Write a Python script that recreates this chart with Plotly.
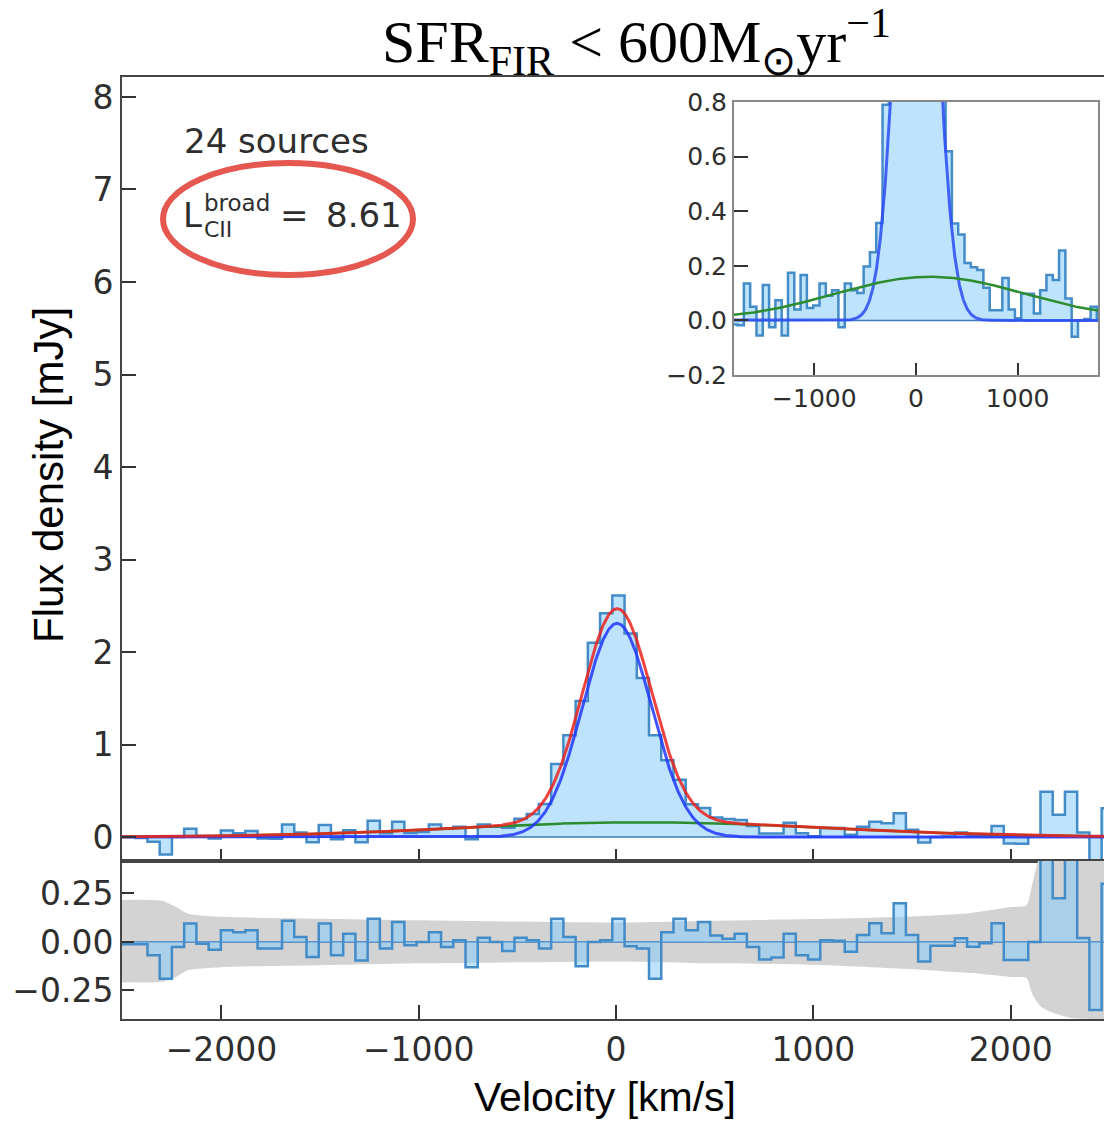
import numpy as np
import plotly.graph_objects as go

W, H = 1104, 1121

# ---- stacked spectrum: channel grid (km/s) ----
CHAN_FIRST = -2530.0   # centre of first channel
CHAN_WIDTH = 62.0
N_CHAN = 82
vel = CHAN_FIRST + CHAN_WIDTH * np.arange(N_CHAN)

# stacked flux density per channel [mJy]
flux = [
    0.00, 0.00, -0.01, -0.05, -0.19, 0.00, 0.09, 0.01, -0.015, 0.07,
    0.04, 0.065, -0.015, -0.018, 0.135, 0.05, -0.055, 0.13, -0.025, 0.074,
    -0.055, 0.175, 0.04, 0.166, 0.045, 0.055, 0.135, 0.09, 0.11, -0.025,
    0.135, 0.11, 0.10, 0.197, 0.25, 0.357, 0.79, 1.10, 1.47, 2.10,
    2.42, 2.61, 2.20, 1.72, 1.10, 0.83, 0.62, 0.355, 0.315, 0.21,
    0.195, 0.185, 0.12, 0.037, 0.037, 0.155, 0.04, 0.008, 0.098, 0.098,
    0.025, 0.11, 0.166, 0.148, 0.256, 0.08, -0.06, 0.0, 0.005, 0.05,
    0.01, 0.022, 0.12, -0.07, -0.073, 0.015, 0.49, 0.24, 0.49, 0.05,
    -0.34, 0.31,
]

# fit residuals per channel [mJy]
resid = [
    -0.012, -0.012, -0.012, -0.069, -0.19, -0.026, 0.095, -0.009, -0.04, 0.06,
    0.05, 0.06, -0.034, -0.034, 0.11, 0.026, -0.077, 0.095, -0.069, 0.043,
    -0.095, 0.12, -0.034, 0.103, -0.017, 0.0, 0.05, -0.026, 0.009, -0.13,
    0.022, 0.0, -0.046, 0.022, 0.009, -0.034, 0.12, 0.026, -0.125, 0.0,
    0.009, 0.12, -0.022, -0.034, -0.19, 0.05, 0.12, 0.06, 0.103, 0.034,
    0.017, 0.043, -0.026, -0.09, -0.08, 0.043, -0.069, -0.09, 0.009, 0.007,
    -0.05, 0.036, 0.096, 0.045, 0.20, 0.036, -0.10, -0.019, -0.019, 0.019,
    -0.024, -0.007, 0.096, -0.093, -0.093, 0.0, 0.47, 0.225, 0.47, 0.02,
    -0.35, 0.30,
]

# Gaussian fit components: amplitude [mJy], centre [km/s], sigma [km/s]
narrow_fit = (2.31, 5.0, 176.0)
broad_fit = (0.16, 140.0, 940.0)

# 1-sigma noise envelope shown behind the residuals
band_v = [-2600, -2300, -2230, -2170, -2000, -1500, -1000, -500, 0, 500,
          1000, 1500, 1800, 2000, 2080, 2110, 2150, 2200, 2300, 2600]
band_hi = [0.215, 0.212, 0.18, 0.146, 0.13, 0.12, 0.112, 0.105, 0.10, 0.11,
           0.118, 0.132, 0.15, 0.18, 0.19, 0.30, 0.45, 0.50, 0.50, 0.50]
band_lo = [-0.206, -0.205, -0.18, -0.146, -0.13, -0.12, -0.11, -0.105, -0.10, -0.11,
           -0.117, -0.14, -0.16, -0.18, -0.185, -0.27, -0.33, -0.36, -0.39, -0.40]

n_sources = 24
l_broad = "8.61"


def gauss(v, p):
    a, c, s = p
    return a * np.exp(-0.5 * ((v - c) / s) ** 2)


v_fine = np.linspace(-2600, 2600, 1301)
g_narrow = gauss(v_fine, narrow_fit)
g_broad = gauss(v_fine, broad_fit)
g_total = g_narrow + g_broad


def px(x):
    return x / W


def py(y):
    return 1 - y / H


C_EDGE = "rgb(68,140,200)"
C_FILL = "rgba(135,206,250,0.55)"
C_ZERO = "rgb(60,125,190)"
C_BLUE = "rgba(35,55,255,0.85)"
C_RED = "rgba(235,35,30,0.85)"
C_GREEN = "rgb(45,140,45)"
TICK_FONT = dict(family="DejaVu Sans", size=33, color="#2e2e2e")
INSET_FONT = dict(family="DejaVu Sans", size=25, color="#2e2e2e")

fig = go.Figure()

# ---- main panel ----
fig.add_trace(go.Scatter(x=vel, y=flux, mode="lines", line_shape="hvh",
                         line=dict(color=C_EDGE, width=2.5), fill="tozeroy",
                         fillcolor=C_FILL, xaxis="x", yaxis="y"))
fig.add_trace(go.Scatter(x=[-2600, 2600], y=[0, 0], mode="lines",
                         line=dict(color=C_ZERO, width=1.5), xaxis="x", yaxis="y"))
fig.add_trace(go.Scatter(x=v_fine, y=g_broad, mode="lines",
                         line=dict(color=C_GREEN, width=2.5), xaxis="x", yaxis="y"))
fig.add_trace(go.Scatter(x=v_fine, y=g_narrow, mode="lines",
                         line=dict(color=C_BLUE, width=3), xaxis="x", yaxis="y"))
fig.add_trace(go.Scatter(x=v_fine, y=g_total, mode="lines",
                         line=dict(color=C_RED, width=3), xaxis="x", yaxis="y"))

# ---- residual panel ----
fig.add_trace(go.Scatter(x=band_v, y=band_lo, mode="lines",
                         line=dict(width=0, shape="spline", smoothing=0.6),
                         xaxis="x2", yaxis="y2"))
fig.add_trace(go.Scatter(x=band_v, y=band_hi, mode="lines",
                         line=dict(width=0, shape="spline", smoothing=0.6),
                         fill="tonexty", fillcolor="rgb(211,211,211)", xaxis="x2", yaxis="y2"))
fig.add_trace(go.Scatter(x=[-2600, 2600], y=[0, 0], mode="lines",
                         line=dict(color=C_ZERO, width=1.5), xaxis="x2", yaxis="y2"))
fig.add_trace(go.Scatter(x=vel, y=resid, mode="lines", line_shape="hvh",
                         line=dict(color=C_EDGE, width=2.5), fill="tozeroy",
                         fillcolor=C_FILL, xaxis="x2", yaxis="y2"))

# ---- inset: zoom on the broad wings ----
fig.add_trace(go.Scatter(x=vel, y=flux, mode="lines", line_shape="hvh",
                         line=dict(color=C_EDGE, width=2.5), fill="tozeroy",
                         fillcolor=C_FILL, xaxis="x3", yaxis="y3"))
fig.add_trace(go.Scatter(x=[-2600, 2600], y=[0, 0], mode="lines",
                         line=dict(color=C_ZERO, width=1.5), xaxis="x3", yaxis="y3"))
fig.add_trace(go.Scatter(x=v_fine, y=g_narrow, mode="lines",
                         line=dict(color="rgba(45,75,245,0.85)", width=3), xaxis="x3", yaxis="y3"))
fig.add_trace(go.Scatter(x=v_fine, y=g_broad, mode="lines",
                         line=dict(color=C_GREEN, width=2.5), xaxis="x3", yaxis="y3"))

axis_common = dict(showgrid=False, zeroline=False, showline=True, linewidth=2,
                   linecolor="#444", ticks="inside", tickwidth=2, tickcolor="#333",
                   automargin=False)
inset_axis = {**axis_common, "linecolor": "#888"}

x_dom = [px(122), 1.0]
x_rng = [-2504, 2473]
vt = [-2000, -1000, 0, 1000, 2000]
vt_txt = ["\u22122000", "\u22121000", "0", "1000", "2000"]

fig.update_layout(
    width=W, height=H,
    margin=dict(l=0, r=0, t=0, b=0, autoexpand=False),
    paper_bgcolor="white", plot_bgcolor="white",
    showlegend=False,
    xaxis=dict(domain=x_dom, range=x_rng, anchor="y", tickvals=vt, showticklabels=False,
               ticklen=12, mirror=True, **axis_common),
    yaxis=dict(domain=[py(861), py(77)], range=[-0.259, 8.216], anchor="x",
               tickvals=list(range(9)), ticklen=14, tickfont=TICK_FONT, **axis_common),
    xaxis2=dict(domain=x_dom, range=x_rng, anchor="y2", tickvals=vt, ticktext=vt_txt,
                ticklen=14, tickfont=TICK_FONT, mirror=True, **axis_common),
    yaxis2=dict(domain=[py(1019), py(861)], range=[-0.397, 0.4175], anchor="x2",
                tickvals=[-0.25, 0, 0.25], ticktext=["\u22120.25", "0.00", "0.25"],
                ticklen=12, tickfont=TICK_FONT, **axis_common),
    xaxis3=dict(domain=[px(734), px(1098)], range=[-1790, 1790], anchor="y3",
                tickvals=[-1000, 0, 1000], ticktext=["\u22121000", "0", "1000"],
                ticklen=12, tickfont=INSET_FONT, mirror=True, **inset_axis),
    yaxis3=dict(domain=[py(375), py(102)], range=[-0.2, 0.8], anchor="x3",
                tickvals=[-0.2, 0, 0.2, 0.4, 0.6, 0.8],
                ticktext=["\u22120.2", "0.0", "0.2", "0.4", "0.6", "0.8"],
                ticklen=14, tickfont=INSET_FONT, mirror=True, **inset_axis),
)

ann_font = dict(family="DejaVu Sans", color="#2e2e2e")
annotations = [
    dict(x=px(636), y=py(42),
         text="SFR<sub>FIR</sub> &lt; 600M<sub>\u2299</sub>yr<sup>\u22121</sup>",
         font=dict(family="Liberation Serif", size=60, color="black")),
    dict(x=px(48), y=py(475), text="Flux density [mJy]", textangle=-90,
         font=dict(family="Liberation Sans", size=42, color="black")),
    dict(x=px(605), y=py(1097), text="Velocity [km/s]",
         font=dict(family="Liberation Sans", size=41, color="black")),
    dict(x=px(276), y=py(141), text=f"{n_sources} sources", font=dict(size=34, **ann_font)),
    dict(x=px(192), y=py(215), text="L", font=dict(size=34, **ann_font)),
    dict(x=px(237), y=py(203), text="broad", font=dict(size=23, **ann_font)),
    dict(x=px(218), y=py(229), text="CII", font=dict(size=22, **ann_font)),
    dict(x=px(294), y=py(215), text="=", font=dict(size=34, **ann_font)),
    dict(x=px(364), y=py(215), text=l_broad, font=dict(size=34, **ann_font)),
]
for a in annotations:
    a.update(xref="paper", yref="paper", showarrow=False, xanchor="center", yanchor="middle")
fig.update_layout(annotations=annotations)

# highlight ellipse around the broad-component luminosity
fig.add_shape(type="circle", xref="paper", yref="paper",
              x0=px(163), x1=px(413), y0=py(275), y1=py(163),
              line=dict(color="rgb(229,88,80)", width=6))

fig.write_html("out.html")
